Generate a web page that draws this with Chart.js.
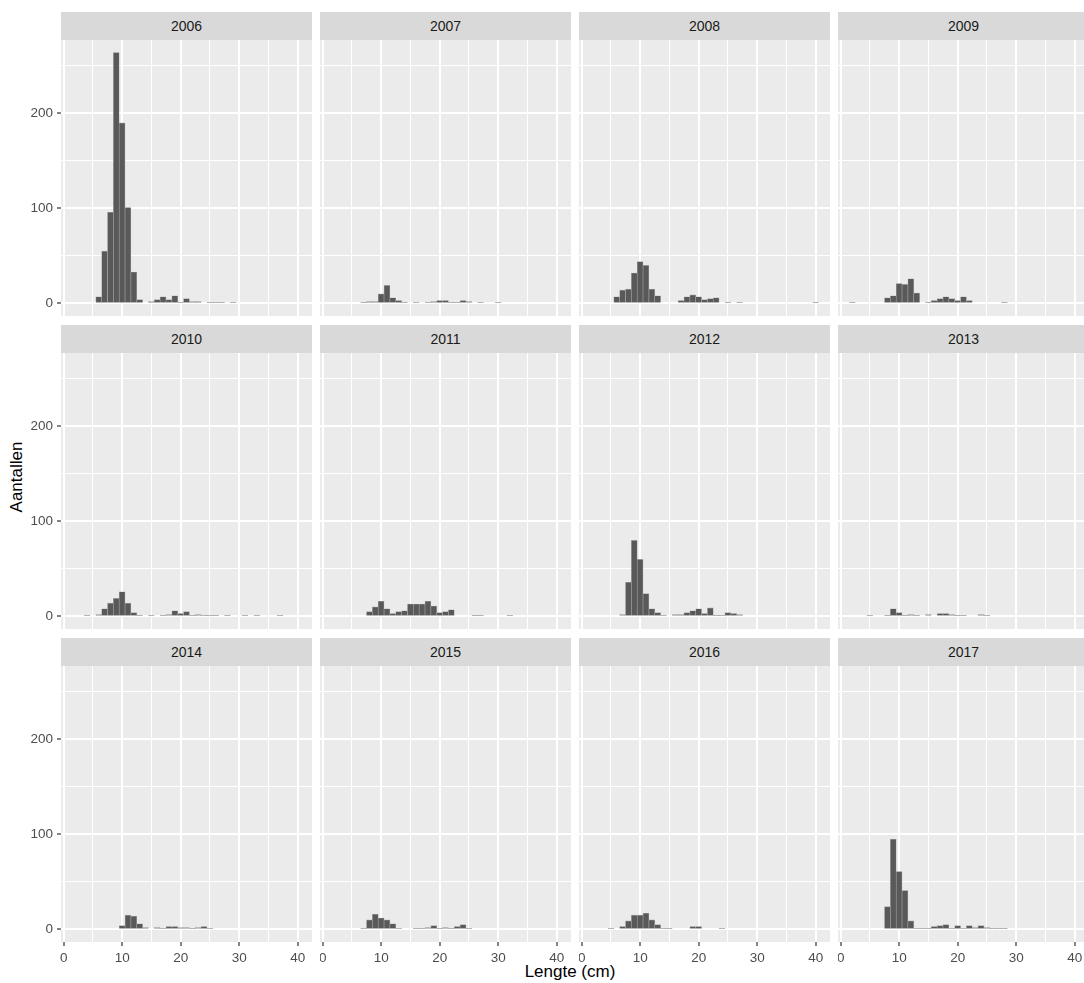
<!DOCTYPE html>
<html>
<head>
<meta charset="utf-8">
<title>Lengte per jaar</title>
<script src="https://cdn.jsdelivr.net/npm/chart.js@4.4.1/dist/chart.umd.min.js"></script>
<style>
  body { margin: 0; background: #FFFFFF; font-family: "Liberation Sans", Arial, sans-serif; }
  #page { position: relative; width: 1084px; height: 983px; overflow: hidden; }
  .strip { position: absolute; background: #D9D9D9; color: #1A1A1A; font-size: 14px; text-align: center; }
  .box { position: absolute; }
  #xtitle { position: absolute; left: 61px; width: 1018px; top: 962px; text-align: center; font-size: 17px; color: #000000; }
  #ytitle { position: absolute; left: 17px; top: 477px; transform: translate(-50%, -50%) rotate(-90deg); font-size: 17px; color: #000000; white-space: nowrap; }
</style>
</head>
<body>
<div id="page">
  <div id="xtitle">Lengte (cm)</div>
  <div id="ytitle">Aantallen</div>
</div>
<script>
// facet titles
const years = [2006, 2007, 2008, 2009, 2010, 2011, 2012, 2013, 2014, 2015, 2016, 2017];

// length classes (cm), one bin of 1 cm around each value
const lengthCm = [1, 2, 3, 4, 5, 6, 7, 8, 9, 10,
                  11, 12, 13, 14, 15, 16, 17, 18, 19, 20,
                  21, 22, 23, 24, 25, 26, 27, 28, 29, 30,
                  31, 32, 33, 34, 35, 36, 37, 38, 39, 40];

// counts per length class
const n2006 = [0,0,0,0,0,7,55,96,264,190, 101,33,4,0,2,4,7,4,8,1, 5,2,2,0,1,1,1,0,1,0, 0,0,0,0,0,0,0,0,0,0];
const n2007 = [0,0,0,0,0,0,1,2,2,10, 19,6,3,1,0,1,0,1,2,3, 3,1,1,3,2,0,1,0,0,1, 0,0,0,0,0,0,0,0,0,0];
const n2008 = [0,0,0,0,0,7,14,15,32,44, 40,15,8,0,0,0,3,7,9,7, 4,5,6,0,1,0,1,0,0,0, 0,0,0,0,0,0,0,0,0,1];
const n2009 = [0,1,0,0,0,0,0,6,8,21, 20,26,11,0,1,3,5,7,5,3, 7,3,0,0,0,0,0,1,0,0, 0,0,0,0,0,0,0,0,0,0];
const n2010 = [0,0,0,1,0,2,8,14,19,26, 14,4,1,0,1,0,1,2,6,3, 5,1,2,1,1,1,0,1,0,0, 1,0,1,0,0,0,1,0,0,0];
const n2011 = [0,0,0,0,0,0,0,5,10,16, 8,3,5,6,13,13,13,16,11,4, 5,7,0,0,0,1,1,0,0,0, 0,1,0,0,0,0,0,0,0,0];
const n2012 = [0,0,0,0,0,0,2,36,80,60, 24,8,4,1,0,2,2,4,6,8, 3,9,1,1,4,3,2,0,0,0, 0,0,0,0,0,0,0,0,0,0];
const n2013 = [0,0,0,0,1,0,0,1,8,4, 1,2,1,0,2,0,3,3,2,1, 1,0,0,2,1,0,0,0,0,0, 0,0,0,0,0,0,0,0,0,0];
const n2014 = [0,0,0,0,0,0,0,0,0,4, 15,14,6,2,0,2,1,3,3,2, 2,1,2,3,1,0,0,0,0,0, 0,0,0,0,0,0,0,0,0,0];
const n2015 = [0,0,0,0,0,0,1,10,16,12, 10,6,1,0,0,1,1,2,4,1, 2,1,3,5,1,0,0,0,0,0, 0,0,0,0,0,0,0,0,0,0];
const n2016 = [0,0,0,0,1,0,3,9,15,15, 17,10,5,1,1,0,0,0,3,3, 0,0,0,1,0,0,0,0,0,0, 0,0,0,0,0,0,0,0,0,0];
const n2017 = [0,0,0,0,0,0,0,24,95,61, 41,9,1,1,1,3,4,5,1,4, 1,4,2,4,2,1,1,1,0,0, 0,0,0,0,0,0,0,0,0,0];

// axis breaks: grid at every value, labels only on the major ones
const xTicks = [0, 5, 10, 15, 20, 25, 30, 35, 40];
const xLabels = [0, 10, 20, 30, 40];
const yTicks = [0, 50, 100, 150, 200, 250];
const yLabels = [0, 100, 200];

const counts = [n2006, n2007, n2008, n2009, n2010, n2011, n2012, n2013, n2014, n2015, n2016, n2017];

// panel geometry (facet_wrap, 4 columns x 3 rows)
const NCOL = 4;
const PANEL_W = 251, PANEL_H = 276;
const PANEL_X0 = 61, PANEL_Y0 = 40;
const STEP_X = 259, STEP_Y = 313;
const STRIP_H = 28;
const YAXIS_W = 61, XAXIS_H = 40;

Chart.defaults.font.family = '"Liberation Sans", Arial, sans-serif';

// same scales on every panel, with the 5% expansion ggplot uses
let xLo = Infinity, xHi = -Infinity, yHi = 0;
for (let k = 0; k < counts.length; k++) {
    for (let i = 0; i < lengthCm.length; i++) {
        if (counts[k][i] > 0) {
            xLo = Math.min(xLo, lengthCm[i] - 0.5);
            xHi = Math.max(xHi, lengthCm[i] + 0.5);
            yHi = Math.max(yHi, counts[k][i]);
        }
    }
}
const xPad = 0.05 * (xHi - xLo);
const yPad = 0.05 * yHi;

// true when the grid line / tick belongs to a labelled break
function isMajor(c, list) {
    return c.tick !== undefined && list.includes(c.tick.value);
}

// grey panel background behind the grid
const panelBg = {
    id: 'panelBg',
    beforeDraw(chart) {
        const a = chart.chartArea;
        const ctx = chart.ctx;
        ctx.save();
        ctx.fillStyle = '#EBEBEB';
        ctx.fillRect(a.left, a.top, a.right - a.left, a.bottom - a.top);
        ctx.restore();
    }
};

const page = document.getElementById('page');

for (let k = 0; k < years.length; k++) {
    const col = k % NCOL;
    const row = Math.floor(k / NCOL);
    const leftCol = col === 0;
    const bottomRow = row === 2;
    const px = PANEL_X0 + col * STEP_X;
    const py = PANEL_Y0 + row * STEP_Y;

    const strip = document.createElement('div');
    strip.className = 'strip';
    strip.style.left = px + 'px';
    strip.style.top = (py - STRIP_H) + 'px';
    strip.style.width = PANEL_W + 'px';
    strip.style.height = STRIP_H + 'px';
    strip.style.lineHeight = STRIP_H + 'px';
    strip.innerText = years[k];
    page.appendChild(strip);

    // canvas covers the panel plus the axis space it owns
    const w = PANEL_W + (leftCol ? YAXIS_W : 0);
    const h = PANEL_H + (bottomRow ? XAXIS_H : 0);
    const box = document.createElement('div');
    box.className = 'box';
    box.style.left = (px - (leftCol ? YAXIS_W : 0)) + 'px';
    box.style.top = py + 'px';
    box.style.width = w + 'px';
    box.style.height = h + 'px';
    const canvas = document.createElement('canvas');
    canvas.width = w;
    canvas.height = h;
    canvas.style.width = w + 'px';
    canvas.style.height = h + 'px';
    box.appendChild(canvas);
    page.appendChild(box);

    const pts = [];
    for (let i = 0; i < lengthCm.length; i++) {
        if (counts[k][i] > 0) pts.push({ x: lengthCm[i], y: counts[k][i] });
    }

    new Chart(canvas, {
        type: 'bar',
        data: {
            datasets: [{
                data: pts,
                backgroundColor: '#595959',
                borderColor: '#A9A9A9',
                borderWidth: 0.6,
                borderSkipped: false,
                categoryPercentage: 1,
                barPercentage: 1
            }]
        },
        options: {
            responsive: false,
            animation: false,
            events: [],
            layout: { padding: 0 },
            plugins: { legend: { display: false }, tooltip: { enabled: false } },
            scales: {
                x: {
                    type: 'linear',
                    offset: false,
                    min: xLo - xPad,
                    max: xHi + xPad,
                    afterBuildTicks: s => { s.ticks = xTicks.map(v => ({ value: v })); },
                    afterFit: s => { s.height = bottomRow ? XAXIS_H : 0; s.paddingLeft = 0; s.paddingRight = 0; },
                    border: { display: false },
                    grid: {
                        offset: false,
                        color: '#FFFFFF',
                        lineWidth: c => isMajor(c, xLabels) ? 2 : 1,
                        drawTicks: bottomRow,
                        tickLength: 4,
                        tickColor: c => isMajor(c, xLabels) ? '#333333' : 'rgba(0,0,0,0)',
                        tickWidth: c => isMajor(c, xLabels) ? 1.2 : 0
                    },
                    ticks: {
                        display: bottomRow,
                        color: '#4D4D4D',
                        font: { size: 13.5 },
                        padding: 4,
                        maxRotation: 0,
                        autoSkip: false,
                        callback: v => xLabels.includes(v) ? String(v) : ''
                    }
                },
                y: {
                    min: -yPad,
                    max: yHi + yPad,
                    afterBuildTicks: s => { s.ticks = yTicks.map(v => ({ value: v })); },
                    afterFit: s => { s.width = leftCol ? YAXIS_W : 0; s.paddingTop = 0; s.paddingBottom = 0; },
                    border: { display: false },
                    grid: {
                        color: '#FFFFFF',
                        lineWidth: c => isMajor(c, yLabels) ? 2 : 1,
                        drawTicks: leftCol,
                        tickLength: 4,
                        tickColor: c => isMajor(c, yLabels) ? '#333333' : 'rgba(0,0,0,0)',
                        tickWidth: c => isMajor(c, yLabels) ? 1.2 : 0
                    },
                    ticks: {
                        display: leftCol,
                        color: '#4D4D4D',
                        font: { size: 13.5 },
                        padding: 4,
                        autoSkip: false,
                        callback: v => yLabels.includes(v) ? String(v) : ''
                    }
                }
            }
        },
        plugins: [panelBg]
    });
}
</script>
</body>
</html>
